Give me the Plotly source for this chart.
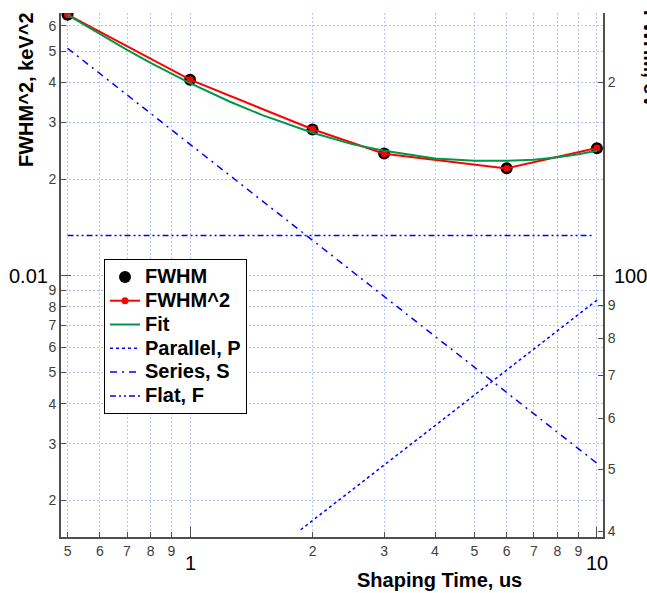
import plotly.graph_objects as go
import numpy as np

# Shaping times (us) and measured resolution
tau = [0.5, 1, 2, 3, 6, 10]
fwhm_ev = [255, 202, 169, 155, 147, 158]                 # FWHM, eV
fwhm2 = [0.0650, 0.0408, 0.0286, 0.0240, 0.0216, 0.0250]  # FWHM^2, keV^2

# Noise-model fit, sampled along the shaping-time axis
tau_fit = [0.5, 0.6, 0.7, 0.8, 0.9, 1.0, 1.25, 1.5, 2, 2.5, 3, 4, 5, 6, 7, 8, 9, 10]
fit = [0.0649, 0.0565, 0.0505, 0.0460, 0.0425, 0.0398, 0.0349, 0.0317, 0.0279,
       0.0257, 0.0245, 0.0232, 0.0228, 0.0228, 0.0230, 0.0234, 0.0239, 0.0245]

# Fit components
par_tau = [1.87, 10]
par_val = [0.00162, 0.00840]
ser_tau = [0.5, 10]
ser_val = [0.0511, 0.00261]
flat_tau = [0.5, 9.8]
flat_val = [0.01335, 0.01335]

# Axis ticks
x_ticks = [0.5, 0.6, 0.7, 0.8, 0.9, 1, 2, 3, 4, 5, 6, 7, 8, 9, 10]
x_text = ['5', '6', '7', '8', '9', '', '2', '3', '4', '5', '6', '7', '8', '9', '']
yl_ticks = [0.002, 0.003, 0.004, 0.005, 0.006, 0.007, 0.008, 0.009, 0.01,
            0.02, 0.03, 0.04, 0.05, 0.06]
yl_text = ['2', '3', '4', '5', '6', '7', '8', '9', '', '2', '3', '4', '5', '6']
yr_ticks = [40, 50, 60, 70, 80, 90, 100, 200]
yr_text = ['4', '5', '6', '7', '8', '9', '', '2']

FONT = "Arial, 'Liberation Sans', sans-serif"
GRID = '#b3c4ff'
GRID_DASH = '2px,2px'
AXIS = '#505050'
TICKFONT = dict(family=FONT, size=14, color='#404040')
BLUE = '#0000ff'

# Left axis: FWHM^2 range; right axis is its square root in eV
yl_range = [np.log10(0.001538), np.log10(0.0658)]
yr_range = [yl_range[0] / 2 + 3, yl_range[1] / 2 + 3]


def lbl(s):
    return '<span style="font-size:20px"><b>' + s + '</b></span>'


fig = go.Figure()

fig.add_trace(go.Scatter(x=tau, y=fwhm_ev, yaxis='y', mode='markers', name=lbl('FWHM'),
                         marker=dict(color='black', size=12)))
fig.add_trace(go.Scatter(x=tau, y=fwhm2, yaxis='y2', mode='lines+markers', name=lbl('FWHM^2'),
                         line=dict(color='#ff0000', width=2),
                         marker=dict(color='#ff0000', size=7)))
fig.add_trace(go.Scatter(x=tau_fit, y=fit, yaxis='y2', mode='lines', name=lbl('Fit'),
                         line=dict(color='#00964a', width=2)))
fig.add_trace(go.Scatter(x=par_tau, y=par_val, yaxis='y2', mode='lines', name=lbl('Parallel, P'),
                         line=dict(color=BLUE, width=1.5, dash='dot')))
fig.add_trace(go.Scatter(x=ser_tau, y=ser_val, yaxis='y2', mode='lines', name=lbl('Series, S'),
                         line=dict(color=BLUE, width=1.5, dash='7px,5px,2px,5px')))
fig.add_trace(go.Scatter(x=flat_tau, y=flat_val, yaxis='y2', mode='lines', name=lbl('Flat, F'),
                         line=dict(color=BLUE, width=1.5, dash='6px,3px,2px,3px,2px,3px')))

L, R, T, B = 61, 44, 13, 56
W, H = 647, 593
pw, ph = W - L - R, H - T - B


def px(xp):
    return (xp - L) / pw


def py(yp):
    return (H - B - yp) / ph


fig.update_layout(
    width=W, height=H,
    margin=dict(l=L, r=R, t=T, b=B, pad=0),
    paper_bgcolor='white', plot_bgcolor='white',
    font=dict(family=FONT, color='black'),
    showlegend=True,
    legend=dict(x=px(104), y=py(259), xanchor='left', yanchor='top',
                bgcolor='white', bordercolor='black', borderwidth=1,
                font=dict(family=FONT, size=16, color='black'),
                tracegroupgap=0),
    xaxis=dict(type='log', range=[np.log10(0.4818), np.log10(10.35)],
               tickmode='array', tickvals=x_ticks, ticktext=x_text,
               ticks='inside', ticklen=5, tickcolor=AXIS, tickwidth=1,
               tickfont=TICKFONT,
               showline=True, linecolor=AXIS, linewidth=2, mirror=False,
               showgrid=True, gridcolor=GRID, griddash=GRID_DASH, gridwidth=1,
               zeroline=False,
               minor=dict(tickmode='array', tickvals=[1, 10], ticks='inside',
                          ticklen=10, tickcolor=AXIS, showgrid=False)),
    yaxis=dict(type='log', range=yr_range, side='right', anchor='x',
               tickmode='array', tickvals=yr_ticks, ticktext=yr_text,
               ticks='inside', ticklen=5, tickcolor=AXIS, tickwidth=1,
               tickfont=TICKFONT,
               showline=True, linecolor=AXIS, linewidth=2,
               showgrid=False, zeroline=False,
               minor=dict(tickmode='array', tickvals=[100], ticks='inside',
                          ticklen=10, tickcolor=AXIS, showgrid=False)),
    yaxis2=dict(type='log', range=yl_range, side='left', overlaying='y', anchor='x',
                tickmode='array', tickvals=yl_ticks, ticktext=yl_text,
                ticks='inside', ticklen=5, tickcolor=AXIS, tickwidth=1,
                tickfont=TICKFONT,
                showline=True, linecolor=AXIS, linewidth=2,
                showgrid=True, gridcolor=GRID, griddash=GRID_DASH, gridwidth=1,
                zeroline=False,
                minor=dict(tickmode='array', tickvals=[0.01], ticks='inside',
                           ticklen=10, tickcolor=AXIS, showgrid=False)),
)

big = dict(family=FONT, size=20, color='black')
bold = dict(family=FONT, size=20, color='black', weight='bold')

ann = [
    # decade labels
    dict(text='1', x=0, xref='x', y=py(563), yref='paper', xanchor='center', yanchor='middle', font=big),
    dict(text='10', x=1, xref='x', y=py(563), yref='paper', xanchor='center', yanchor='middle', font=big),
    dict(text='0.01', x=px(50), xref='paper', y=-2, yref='y2', xanchor='right', yanchor='middle', font=big),
    dict(text='100', x=px(612), xref='paper', y=2, yref='y', xanchor='left', yanchor='middle', font=big),
    # axis titles
    dict(text='<b>Shaping Time, us</b>', x=px(439), xref='paper', y=py(580), yref='paper',
         xanchor='center', yanchor='middle', font=bold),
    dict(text='<b>FWHM^2, keV^2</b>', x=px(26), xref='paper', y=py(90), yref='paper',
         xanchor='center', yanchor='middle', textangle=-90, font=bold),
    dict(text='<b>FWHM, eV</b>', x=px(651), xref='paper', y=py(59), yref='paper',
         xanchor='center', yanchor='middle', textangle=90, font=bold),
]
fig.update_layout(annotations=[dict(a, showarrow=False) for a in ann])

fig.write_html("out.html")
